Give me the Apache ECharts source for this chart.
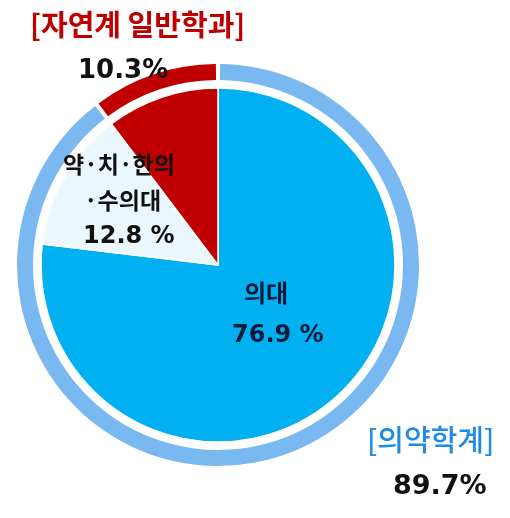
<!DOCTYPE html>
<html><head><meta charset="utf-8">
<script src="https://cdn.jsdelivr.net/npm/echarts@6/dist/echarts.min.js"></script>
<style>html,body{margin:0;padding:0;background:#fff}#c{width:510px;height:518px}</style>
</head><body><div id="c"></div>
<script>
const innerNames = ['의대', '약·치·한의·수의대', '자연계 일반학과'];
const innerValues = [76.9, 12.8, 10.3];
const outerNames = ['의약학계', '자연계 일반학과'];
const outerValues = [89.7, 10.3];

const KR = '"Noto Sans CJK KR", "Noto Sans", sans-serif';
const NUM = '"DejaVu Sans", sans-serif';
const chart = echarts.init(document.getElementById('c'), null, {renderer: 'canvas'});
const fmt = v => v.toFixed(1);
function t(x, y, text, fill, font) {
  return {type: 'text', x: x, y: y, z: 100, style: {text: text, fill: fill, font: font,
    align: 'left', verticalAlign: 'middle'}};
}

chart.setOption({
  backgroundColor: '#ffffff',
  animation: false,
  series: [
    {
      type: 'pie', center: [218, 265], radius: [0, 177], startAngle: 90,
      clockwise: true, silent: true, label: {show: false}, labelLine: {show: false},
      itemStyle: {borderColor: '#ffffff', borderWidth: 1.5},
      data: innerNames.map((n, i) => ({name: n, value: innerValues[i],
        itemStyle: {color: ['#00B0F0', '#EAF7FD', '#C00000'][i]}}))
    },
    {
      type: 'pie', center: [218, 265], radius: [185, 201], startAngle: 90,
      clockwise: true, silent: true, label: {show: false}, labelLine: {show: false},
      padAngle: 1.2,
      itemStyle: {borderWidth: 0},
      data: outerNames.map((n, i) => ({name: n, value: outerValues[i],
        itemStyle: {color: ['#7AB8F2', '#C00000'][i]}}))
    }
  ],
  graphic: [
    t(30, 25, '[' + outerNames[1] + ']', '#C00000', 'bold 29px ' + KR),
    t(78, 71, fmt(outerValues[1]) + '%', '#111111', 'bold 26px ' + NUM),
    t(63, 164, '약·치·한의', '#111111', 'bold 23px ' + KR),
    t(84, 200, '·수의대', '#111111', 'bold 23px ' + KR),
    t(83, 237, fmt(innerValues[1]) + ' %', '#111111', 'bold 24px ' + NUM),
    t(244, 293, innerNames[0], '#0D1B3A', 'bold 24px ' + KR),
    t(232, 336, fmt(innerValues[0]) + ' %', '#0D1B3A', 'bold 24px ' + NUM),
    t(367, 440, '[' + outerNames[0] + ']', '#1E8CE6', '500 29px ' + KR),
    t(393, 487, fmt(outerValues[0]) + '%', '#111111', 'bold 27px ' + NUM)
  ]
});
</script></body></html>
